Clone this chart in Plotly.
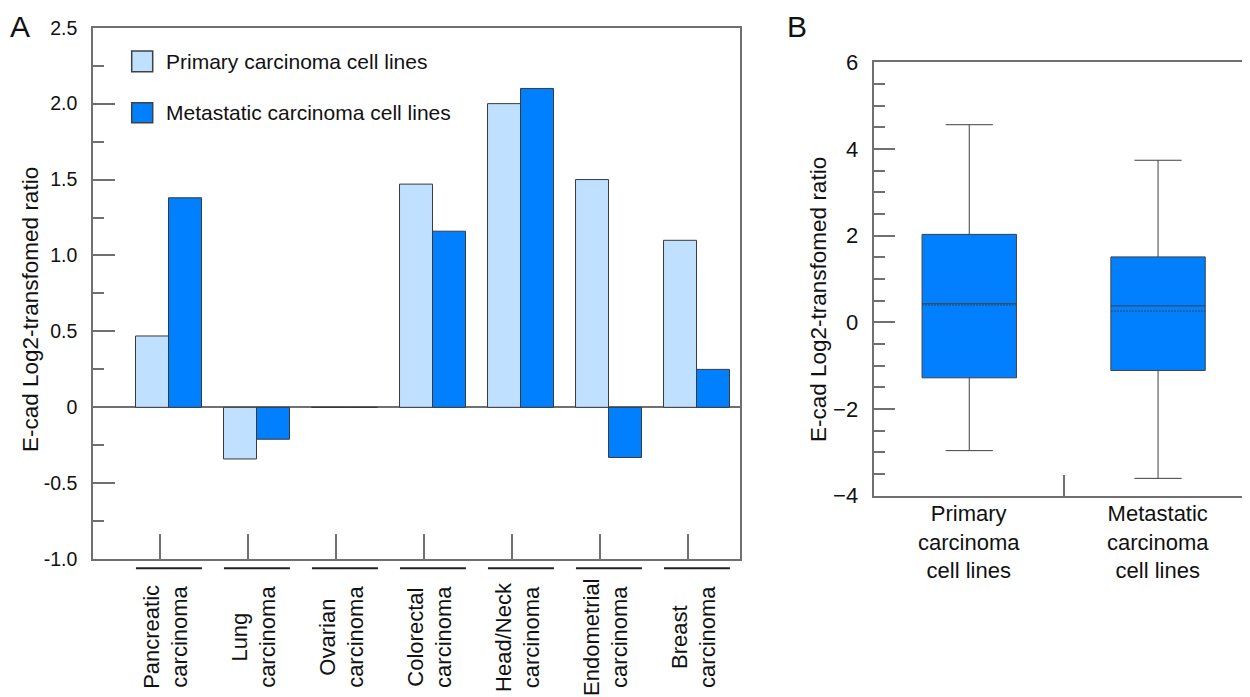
import plotly.graph_objects as go

W, H = 1250, 697
OFF = 8  # page body margin offset

# ---------------- data ----------------
categories = ["Pancreatic<br>carcinoma", "Lung<br>carcinoma", "Ovarian<br>carcinoma",
              "Colorectal<br>carcinoma", "Head/Neck<br>carcinoma",
              "Endometrial<br>carcinoma", "Breast<br>carcinoma"]
primary = [0.47, -0.34, 0.0, 1.47, 2.00, 1.50, 1.10]
metastatic = [1.38, -0.21, 0.0, 1.16, 2.10, -0.33, 0.25]
series_names = ["Primary carcinoma cell lines", "Metastatic carcinoma cell lines"]

a_ticks = [-1.0, -0.5, 0.0, 0.5, 1.0, 1.5, 2.0, 2.5]
a_ticklabels = ["-1.0", "-0.5", "0", "0.5", "1.0", "1.5", "2.0", "2.5"]

box_groups = ["Primary<br>carcinoma<br>cell lines", "Metastatic<br>carcinoma<br>cell lines"]
box_q1 = [-1.28, -1.11]
box_median = [0.43, 0.38]
box_q3 = [2.03, 1.51]
box_lower = [-2.96, -3.60]
box_upper = [4.56, 3.74]
box_mean = [0.40, 0.26]
b_ticks = [-4, -2, 0, 2, 4, 6]

# ---------------- style ----------------
LIGHT = "#C0E0FF"
DARK = "#0080FF"
EDGE = "#3a3a3a"
AXC = "#707070"
FONT = "Arial, Liberation Sans, sans-serif"
TXT = "#111111"

def px_x(x):
    return (x - OFF) / W

def px_y(y):
    return 1 - (y - OFF) / H

fig = go.Figure()

xs = list(range(len(categories)))
fig.add_trace(go.Bar(x=xs, y=primary, name=series_names[0], marker=dict(color=LIGHT, line=dict(color=EDGE, width=1)),
                     xaxis="x", yaxis="y", showlegend=False))
fig.add_trace(go.Bar(x=xs, y=metastatic, name=series_names[1], marker=dict(color=DARK, line=dict(color=EDGE, width=1)),
                     xaxis="x", yaxis="y", showlegend=False))

for i in range(len(box_groups)):
    fig.add_trace(go.Box(x=[i], q1=[box_q1[i]], median=[box_median[i]], q3=[box_q3[i]],
                         lowerfence=[box_lower[i]], upperfence=[box_upper[i]], mean=[box_mean[i]],
                         boxmean=True, boxpoints=False, width=0.5, whiskerwidth=0.5,
                         fillcolor=DARK, line=dict(color="#404040", width=1),
                         xaxis="x2", yaxis="y2", showlegend=False, name=box_groups[i]))

# ---------------- layout ----------------
a_left, a_right, a_top, a_bot = 93, 740, 27.7, 559.2
b_left, b_right, b_top, b_bot = 874.3, 1250, 62.3, 495.7

fig.update_layout(
    width=W, height=H, autosize=False, showlegend=False,
    margin=dict(l=0, r=0, t=0, b=0, pad=0, autoexpand=False),
    paper_bgcolor="white", plot_bgcolor="white",
    barmode="group", bargap=0.25, bargroupgap=0,
    font=dict(family=FONT, color=TXT),
    xaxis=dict(domain=[px_x(a_left), px_x(a_right)], range=[-0.858, 6.494], automargin=False,
               showline=True, linecolor=AXC, linewidth=1.5, mirror=True,
               showgrid=False, zeroline=False,
               tickmode="array", tickvals=[x - 0.1 for x in xs], ticktext=[""] * len(xs),
               ticks="inside", ticklen=25, tickcolor=AXC, tickwidth=1.5),
    yaxis=dict(domain=[px_y(a_bot), px_y(a_top)], range=[-1, 2.5], automargin=False,
               showline=True, linecolor=AXC, linewidth=1.5, mirror=True,
               showgrid=False, zeroline=True, zerolinecolor=AXC, zerolinewidth=1.5,
               tickmode="array", tickvals=a_ticks, ticktext=a_ticklabels,
               ticks="inside", ticklen=22, tickcolor=AXC, tickwidth=1.5,
               ticklabelstandoff=10,
               tickfont=dict(size=19.5, family=FONT, color=TXT),
               minor=dict(tickmode="linear", tick0=0, dtick=0.25, ticks="inside", ticklen=11,
                          tickcolor=AXC, tickwidth=1.5)),
    xaxis2=dict(domain=[px_x(b_left), px_x(b_right)], range=[-0.503, 1.487], automargin=False, anchor="y2",
                showline=True, linecolor=AXC, linewidth=1.5, mirror=True,
                showgrid=False, zeroline=False,
                tickmode="array", tickvals=[0.5], ticktext=[""],
                ticks="inside", ticklen=21, tickcolor=AXC, tickwidth=1.5),
    yaxis2=dict(domain=[px_y(b_bot), px_y(b_top)], range=[-4, 6], anchor="x2", automargin=False,
                showline=True, linecolor=AXC, linewidth=1.5, mirror=False,
                showgrid=False, zeroline=False,
                tickmode="array", tickvals=b_ticks,
                ticks="inside", ticklen=21, tickcolor=AXC, tickwidth=1.5,
                ticklabelstandoff=10,
                tickfont=dict(size=22, family=FONT, color=TXT),
                minor=dict(tickmode="linear", tick0=0, dtick=0.5, ticks="inside", ticklen=11,
                           tickcolor=AXC, tickwidth=1.5)),
)

shapes = []
annotations = []

# category underlines and labels (panel A)
for i, lab in enumerate(categories):
    shapes.append(dict(type="line", xref="x", yref="paper", x0=i - 0.37, x1=i + 0.38,
                       y0=px_y(568.3), y1=px_y(568.3), line=dict(color="#222222", width=2)))
    annotations.append(dict(x=i - 0.03, y=px_y(637), xref="x", yref="paper", text=lab,
                            textangle=-90, showarrow=False, xanchor="center", yanchor="middle",
                            align="center", font=dict(size=22, family=FONT, color=TXT)))

# custom legend (panel A)
leg_rows = [(51, 71.7, LIGHT), (102.7, 122.7, DARK)]
for (y0, y1, col), name in zip(leg_rows, series_names):
    shapes.append(dict(type="rect", xref="paper", yref="paper", x0=px_x(131.7), x1=px_x(152.7),
                       y0=px_y(y1), y1=px_y(y0), fillcolor=col, line=dict(color="#404040", width=1.5)))
    annotations.append(dict(x=px_x(164), y=px_y((y0 + y1) / 2), xref="paper", yref="paper", text=name,
                            showarrow=False, xanchor="left", yanchor="middle",
                            font=dict(size=21, family=FONT, color=TXT)))

# y titles
annotations.append(dict(x=px_x(30), y=px_y(310), xref="paper", yref="paper",
                        text="E-cad Log2-transfomed ratio", textangle=-90, showarrow=False,
                        xanchor="center", yanchor="middle", font=dict(size=22.5, family=FONT, color=TXT)))
annotations.append(dict(x=px_x(818), y=px_y(300), xref="paper", yref="paper",
                        text="E-cad Log2-transfomed ratio", textangle=-90, showarrow=False,
                        xanchor="center", yanchor="middle", font=dict(size=22.5, family=FONT, color=TXT)))

# panel B category labels
for i, lab in enumerate(box_groups):
    annotations.append(dict(x=i, y=px_y(541.5), xref="x2", yref="paper", text=lab, showarrow=False,
                            xanchor="center", yanchor="middle", align="center",
                            font=dict(size=22, family=FONT, color=TXT)))

# panel letters
annotations.append(dict(x=px_x(8), y=px_y(26), xref="paper", yref="paper", text="A", showarrow=False,
                        xanchor="left", yanchor="middle", font=dict(size=30, family=FONT, color=TXT)))
annotations.append(dict(x=px_x(785), y=px_y(26), xref="paper", yref="paper", text="B", showarrow=False,
                        xanchor="left", yanchor="middle", font=dict(size=30, family=FONT, color=TXT)))

fig.update_layout(shapes=shapes, annotations=annotations)

fig.write_html("out.html")
